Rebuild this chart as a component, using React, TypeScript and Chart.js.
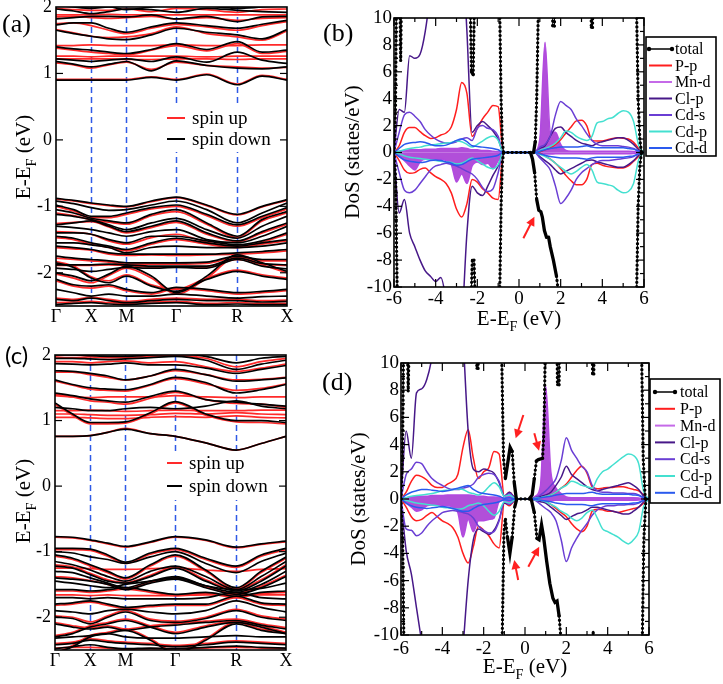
import React, { useEffect, useRef } from "react";
import { Chart, registerables } from "chart.js";

Chart.register(...registerables);

const SERIF = '"Liberation Serif", "Times New Roman", serif';
const SANS = 'Lato, "Open Sans", sans-serif';

// ================= Band structure data =================
const kPath = [0, 0.25, 0.5, 0.75, 1.0, 1.354, 1.707, 2.14, 2.573, 2.927, 3.28];
const kTickPos = [0, 0.5, 1.0, 1.707, 2.573, 3.28];
const kTickLabels = ["Γ", "X", "M", "Γ", "R", "X"];
const bandYTicks = [2, 1, 0, -1, -2];

// panel (a), spin down (black)
const bandsDnA = [
  [0.90, 0.90, 0.90, 0.90, 0.90, 0.94, 0.90, 0.98, 0.83, 0.96, 0.90],
  [1.18, 1.14, 1.10, 1.14, 1.18, 1.04, 1.19, 1.12, 1.08, 1.07, 1.10],
  [1.22, 1.20, 1.18, 1.20, 1.22, 1.18, 1.25, 1.17, 1.32, 1.20, 1.15],
  [1.40, 1.37, 1.35, 1.32, 1.30, 1.36, 1.45, 1.36, 1.48, 1.32, 1.35],
  [1.65, 1.60, 1.56, 1.52, 1.51, 1.58, 1.68, 1.62, 1.58, 1.52, 1.66],
  [1.73, 1.76, 1.76, 1.68, 1.62, 1.70, 1.76, 1.72, 1.68, 1.74, 1.80],
  [1.82, 1.84, 1.86, 1.86, 1.85, 1.88, 1.82, 1.86, 1.78, 1.85, 1.86],
  [1.97, 1.94, 1.90, 1.93, 1.97, 1.96, 1.92, 1.98, 1.95, 1.93, 1.92],
  [2.03, 2.00, 1.98, 2.00, 1.96, 2.00, 2.05, 2.02, 1.98, 2.00, 2.02],
  [-0.88, -0.91, -0.95, -0.98, -1.00, -0.92, -0.86, -0.98, -1.12, -1.00, -0.90],
  [-0.92, -0.96, -1.02, -1.06, -1.05, -0.98, -0.92, -1.05, -1.25, -1.10, -0.95],
  [-0.98, -1.05, -1.15, -1.15, -1.10, -1.02, -0.98, -1.12, -1.28, -1.15, -1.02],
  [-1.05, -1.10, -1.18, -1.22, -1.25, -1.12, -1.05, -1.25, -1.45, -1.20, -1.08],
  [-1.12, -1.15, -1.20, -1.28, -1.35, -1.25, -1.18, -1.35, -1.48, -1.30, -1.15],
  [-1.28, -1.25, -1.22, -1.30, -1.38, -1.30, -1.22, -1.40, -1.52, -1.38, -1.25],
  [-1.30, -1.32, -1.35, -1.40, -1.45, -1.38, -1.35, -1.50, -1.55, -1.45, -1.30],
  [-1.40, -1.40, -1.42, -1.50, -1.55, -1.45, -1.45, -1.52, -1.58, -1.52, -1.40],
  [-1.45, -1.48, -1.55, -1.60, -1.65, -1.55, -1.48, -1.55, -1.60, -1.55, -1.50],
  [-1.55, -1.55, -1.58, -1.62, -1.70, -1.62, -1.60, -1.62, -1.62, -1.60, -1.55],
  [-1.60, -1.62, -1.65, -1.70, -1.72, -1.72, -1.72, -1.72, -1.70, -1.68, -1.65],
  [-1.75, -1.78, -1.80, -1.82, -1.85, -1.85, -1.85, -1.84, -1.75, -1.80, -1.80],
  [-1.88, -1.88, -1.88, -1.87, -1.88, -1.90, -1.90, -1.90, -1.78, -1.86, -1.88],
  [-1.93, -1.95, -1.98, -1.95, -1.92, -1.93, -1.92, -1.93, -1.80, -1.90, -1.94],
  [-1.85, -1.92, -2.08, -2.15, -2.05, -2.20, -2.28, -2.10, -1.98, -2.05, -2.10],
  [-2.10, -2.18, -2.20, -2.18, -2.25, -2.30, -2.22, -2.25, -2.30, -2.28, -2.25],
  [-2.25, -2.30, -2.35, -2.32, -2.35, -2.35, -2.32, -2.35, -2.38, -2.36, -2.35],
  [-2.40, -2.42, -2.38, -2.42, -2.45, -2.42, -2.40, -2.42, -2.42, -2.44, -2.43],
  [-2.48, -2.46, -2.45, -2.47, -2.48, -2.46, -2.45, -2.48, -2.47, -2.48, -2.48],
  [-2.00, -2.05, -2.12, -2.02, -1.90, -2.05, -2.30, -2.05, -1.73, -1.85, -1.98],
];

// panel (a), spin up (red)
const bandsUpA = [
  [0.91, 0.91, 0.91, 0.91, 0.91, 0.95, 0.91, 0.99, 0.84, 0.97, 0.91],
  [1.16, 1.13, 1.08, 1.13, 1.17, 1.06, 1.17, 1.12, 1.10, 1.08, 1.09],
  [1.22, 1.22, 1.22, 1.22, 1.21, 1.21, 1.22, 1.22, 1.21, 1.22, 1.22],
  [1.26, 1.26, 1.25, 1.26, 1.26, 1.26, 1.26, 1.25, 1.26, 1.26, 1.26],
  [1.42, 1.42, 1.43, 1.42, 1.42, 1.42, 1.43, 1.42, 1.42, 1.43, 1.43],
  [1.38, 1.35, 1.32, 1.30, 1.28, 1.35, 1.42, 1.34, 1.45, 1.30, 1.33],
  [1.66, 1.61, 1.56, 1.54, 1.55, 1.60, 1.70, 1.60, 1.55, 1.50, 1.64],
  [1.75, 1.76, 1.72, 1.65, 1.60, 1.68, 1.74, 1.70, 1.65, 1.72, 1.78],
  [1.88, 1.88, 1.88, 1.89, 1.88, 1.88, 1.88, 1.88, 1.88, 1.88, 1.88],
  [1.98, 1.96, 1.95, 1.95, 1.97, 1.93, 1.98, 1.96, 1.92, 1.96, 1.97],
  [1.85, 1.86, 1.84, 1.83, 1.84, 1.86, 1.82, 1.84, 1.80, 1.83, 1.84],
  [-0.89, -0.92, -0.96, -0.99, -1.01, -0.93, -0.87, -0.99, -1.13, -1.01, -0.91],
  [-1.00, -1.07, -1.17, -1.17, -1.12, -1.04, -1.00, -1.14, -1.30, -1.17, -1.04],
  [-1.10, -1.14, -1.20, -1.24, -1.27, -1.14, -1.08, -1.27, -1.47, -1.22, -1.10],
  [-1.26, -1.24, -1.23, -1.31, -1.40, -1.32, -1.24, -1.42, -1.53, -1.40, -1.27],
  [-1.38, -1.39, -1.42, -1.52, -1.57, -1.47, -1.42, -1.54, -1.60, -1.54, -1.42],
  [-1.47, -1.50, -1.57, -1.62, -1.67, -1.57, -1.50, -1.57, -1.62, -1.57, -1.52],
  [-1.62, -1.64, -1.66, -1.72, -1.74, -1.73, -1.74, -1.73, -1.72, -1.70, -1.67],
  [-1.78, -1.80, -1.82, -1.84, -1.87, -1.87, -1.87, -1.86, -1.77, -1.82, -1.82],
  [-1.89, -1.89, -1.89, -1.88, -1.89, -1.91, -1.91, -1.91, -1.80, -1.87, -1.89],
  [-1.83, -1.90, -2.06, -2.12, -2.03, -2.18, -2.25, -2.08, -1.96, -2.03, -2.08],
  [-2.02, -2.08, -2.15, -2.04, -1.93, -2.08, -2.32, -2.08, -1.76, -1.88, -2.00],
  [-2.12, -2.20, -2.23, -2.20, -2.27, -2.32, -2.24, -2.27, -2.32, -2.30, -2.27],
  [-2.38, -2.40, -2.37, -2.40, -2.43, -2.40, -2.38, -2.40, -2.40, -2.42, -2.41],
  [-2.45, -2.44, -2.43, -2.45, -2.46, -2.44, -2.43, -2.46, -2.45, -2.46, -2.46],
];

// panel (c), spin down (black)
const bandsDnC = [
  [0.76, 0.76, 0.77, 0.82, 0.87, 0.80, 0.76, 0.66, 0.55, 0.65, 0.76],
  [1.27, 1.10, 0.97, 0.97, 0.98, 1.12, 1.29, 1.10, 1.00, 1.00, 0.97],
  [1.42, 1.38, 1.33, 1.30, 1.28, 1.37, 1.45, 1.32, 1.28, 1.25, 1.22],
  [1.62, 1.55, 1.50, 1.48, 1.47, 1.55, 1.66, 1.58, 1.42, 1.47, 1.55],
  [1.76, 1.75, 1.72, 1.68, 1.62, 1.68, 1.78, 1.70, 1.60, 1.62, 1.65],
  [1.87, 1.86, 1.85, 1.86, 1.88, 1.85, 1.85, 1.80, 1.72, 1.78, 1.84],
  [1.95, 1.95, 1.94, 1.93, 1.94, 1.96, 1.98, 1.92, 1.78, 1.86, 1.92],
  [2.00, 2.00, 1.99, 1.98, 1.98, 2.00, 2.02, 1.98, 1.88, 1.95, 1.98],
  [1.20, 1.18, 1.15, 1.15, 1.18, 1.20, 1.18, 1.22, 1.30, 1.22, 1.18],
  [-0.77, -0.78, -0.82, -0.87, -0.92, -0.85, -0.77, -0.82, -0.93, -0.88, -0.84],
  [-0.95, -0.95, -0.96, -1.05, -1.16, -1.02, -0.95, -1.10, -1.22, -1.05, -0.95],
  [-1.00, -1.02, -1.08, -1.12, -1.18, -1.08, -1.00, -1.18, -1.32, -1.15, -1.02],
  [-1.05, -1.10, -1.20, -1.30, -1.40, -1.20, -1.05, -1.28, -1.55, -1.30, -1.08],
  [-1.15, -1.20, -1.28, -1.38, -1.45, -1.30, -1.22, -1.38, -1.58, -1.38, -1.15],
  [-1.22, -1.25, -1.35, -1.45, -1.48, -1.38, -1.25, -1.45, -1.60, -1.45, -1.22],
  [-1.30, -1.32, -1.40, -1.48, -1.55, -1.45, -1.38, -1.52, -1.62, -1.50, -1.30],
  [-1.40, -1.42, -1.45, -1.50, -1.58, -1.48, -1.42, -1.55, -1.65, -1.55, -1.38],
  [-1.45, -1.48, -1.52, -1.55, -1.50, -1.45, -1.40, -1.52, -1.58, -1.56, -1.48],
  [-1.58, -1.58, -1.60, -1.58, -1.55, -1.60, -1.65, -1.62, -1.68, -1.62, -1.60],
  [-1.70, -1.70, -1.72, -1.70, -1.72, -1.72, -1.72, -1.70, -1.62, -1.70, -1.72],
  [-1.80, -1.78, -1.75, -1.80, -1.85, -1.82, -1.80, -1.80, -1.68, -1.78, -1.80],
  [-1.90, -1.92, -1.95, -1.90, -1.88, -1.92, -1.95, -1.90, -1.75, -1.85, -1.92],
  [-2.00, -2.02, -2.10, -2.00, -1.92, -2.05, -2.08, -2.02, -1.90, -2.00, -2.05],
  [-2.10, -2.15, -2.18, -2.15, -2.20, -2.15, -2.12, -2.08, -2.05, -2.12, -2.18],
  [-2.30, -2.25, -2.15, -2.10, -2.05, -2.15, -2.25, -2.15, -2.08, -2.15, -2.25],
  [-2.32, -2.30, -2.28, -2.25, -2.30, -2.32, -2.32, -2.30, -2.28, -2.30, -2.30],
  [-2.42, -2.40, -2.35, -2.38, -2.40, -2.42, -2.45, -2.42, -2.38, -2.40, -2.42],
  [-2.48, -2.45, -2.42, -2.46, -2.48, -2.47, -2.48, -2.46, -2.44, -2.46, -2.47],
  [-2.55, -2.45, -2.30, -2.25, -2.20, -2.35, -2.55, -2.35, -2.10, -2.20, -2.25],
];

// panel (c), spin up (red)
const bandsUpC = [
  [0.76, 0.76, 0.77, 0.82, 0.88, 0.80, 0.76, 0.66, 0.55, 0.65, 0.76],
  [1.25, 1.08, 0.95, 0.95, 0.96, 1.10, 1.27, 1.08, 0.98, 0.97, 0.95],
  [1.10, 1.10, 1.09, 1.08, 1.08, 1.09, 1.11, 1.10, 1.12, 1.10, 1.09],
  [1.15, 1.15, 1.16, 1.15, 1.14, 1.15, 1.16, 1.15, 1.15, 1.16, 1.16],
  [1.05, 1.05, 1.04, 1.03, 1.03, 1.05, 1.06, 1.05, 1.07, 1.05, 1.04],
  [1.38, 1.36, 1.35, 1.36, 1.36, 1.36, 1.38, 1.36, 1.35, 1.36, 1.36],
  [1.40, 1.36, 1.30, 1.28, 1.25, 1.34, 1.43, 1.32, 1.26, 1.25, 1.20],
  [1.60, 1.54, 1.48, 1.46, 1.45, 1.54, 1.64, 1.56, 1.46, 1.49, 1.56],
  [1.74, 1.74, 1.70, 1.66, 1.62, 1.68, 1.76, 1.70, 1.62, 1.63, 1.66],
  [1.90, 1.90, 1.88, 1.90, 1.91, 1.88, 1.90, 1.82, 1.75, 1.80, 1.86],
  [1.97, 1.96, 1.97, 1.96, 1.96, 1.98, 1.99, 1.95, 1.82, 1.90, 1.95],
  [-0.78, -0.79, -0.83, -0.88, -0.93, -0.86, -0.78, -0.83, -0.94, -0.89, -0.85],
  [-0.97, -0.97, -0.98, -1.07, -1.18, -1.04, -0.97, -1.12, -1.24, -1.07, -0.97],
  [-1.07, -1.12, -1.22, -1.32, -1.42, -1.22, -1.07, -1.30, -1.57, -1.32, -1.10],
  [-1.20, -1.23, -1.33, -1.43, -1.47, -1.36, -1.23, -1.43, -1.58, -1.43, -1.20],
  [-1.25, -1.25, -1.26, -1.27, -1.27, -1.26, -1.25, -1.28, -1.30, -1.27, -1.26],
  [-1.38, -1.40, -1.44, -1.50, -1.57, -1.47, -1.40, -1.54, -1.64, -1.53, -1.36],
  [-1.60, -1.60, -1.62, -1.60, -1.57, -1.62, -1.67, -1.64, -1.70, -1.64, -1.62],
  [-1.66, -1.66, -1.67, -1.66, -1.67, -1.67, -1.67, -1.66, -1.66, -1.66, -1.66],
  [-1.82, -1.80, -1.77, -1.82, -1.87, -1.84, -1.82, -1.82, -1.70, -1.80, -1.82],
  [-1.98, -2.00, -2.07, -1.98, -1.90, -2.03, -2.06, -2.00, -1.88, -1.98, -2.03],
  [-2.08, -2.13, -2.16, -2.13, -2.18, -2.13, -2.10, -2.06, -2.03, -2.10, -2.16],
  [-2.28, -2.23, -2.13, -2.08, -2.03, -2.13, -2.23, -2.13, -2.06, -2.13, -2.23],
  [-2.40, -2.38, -2.33, -2.36, -2.38, -2.40, -2.43, -2.40, -2.36, -2.38, -2.40],
  [-2.55, -2.43, -2.28, -2.23, -2.18, -2.33, -2.53, -2.33, -2.08, -2.18, -2.23],
  [-2.47, -2.46, -2.46, -2.47, -2.49, -2.48, -2.48, -2.47, -2.46, -2.47, -2.48],
];

// ================= DOS data =================
const dosEnergy = [
  -6, -5.75, -5.5, -5.25, -5, -4.75, -4.5, -4.25, -4, -3.75, -3.5, -3.25,
  -3, -2.75, -2.5, -2.25, -2, -1.75, -1.5, -1.25, -1, -0.75, -0.5, -0.25,
  0, 0.25, 0.5, 0.75, 1, 1.25, 1.5, 1.75, 2, 2.25, 2.5, 2.75,
  3, 3.25, 3.5, 3.75, 4, 4.25, 4.5, 4.75, 5, 5.25, 5.5, 5.75, 6,
];
const dosXTicks = [-6, -4, -2, 0, 2, 4, 6];
const dosXMinor = [-5, -3, -1, 1, 3, 5];
const dosYTicks = [10, 8, 6, 4, 2, 0, -2, -4, -6, -8, -10];
const dosYMinor = [9, 7, 5, 3, 1, -1, -3, -5, -7, -9];

// ---- panel (b) ----
const ppUpB = [0, 0.5, 1.5, 1.85, 1.85, 1.55, 1.25, 1.05, 1.1, 1.3, 1.45, 1.9,
  3.2, 5.2, 4.4, 1.2, 1.8, 2.5, 3.0, 3.5, 3.4, 0, 0, 0,
  0, 0, 0, 0, 0.05, 0.2, 0.35, 0.6, 0.95, 1.45, 1.9, 2.35,
  2.4, 2.0, 0.9, 0.85, 0.85, 0.95, 1.05, 1.1, 1.05, 1.0, 0.75, 0.3, 0];
const ppDnB = [0, -0.6, -1.3, -1.55, -1.5, -1.25, -1.15, -1.5, -1.8, -2.0, -2.3, -3.0,
  -4.2, -4.8, -3.8, -2.0, -2.2, -2.7, -3.0, -3.4, -3.5, 0, 0, 0,
  0, 0, 0, 0, -0.05, -0.25, -0.5, -0.8, -1.2, -1.7, -2.1, -2.4,
  -2.4, -2.0, -0.9, -0.8, -0.95, -1.05, -1.1, -1.15, -1.15, -1.0, -0.65, -0.3, 0];
const mndUpB = [0, 0.1, 0.15, 0.2, 0.2, 0.2, 0.25, 0.25, 0.25, 0.3, 0.3, 0.3,
  0.3, 0.35, 0.3, 0.2, 0.2, 0.15, 0.15, 0.1, 0.05, 0, 0, 0,
  0, 0, 0, 0.1, 1.0, 8.2, 1.6, 1.5, 0.6, 0.15, 0.1, 0.1,
  0.1, 0.1, 0.1, 0.1, 0.1, 0.1, 0.1, 0.1, 0.1, 0.1, 0.08, 0.03, 0];
const mndDnB = [0, -0.3, -0.6, -1.0, -1.3, -0.7, -0.5, -0.5, -0.55, -0.5, -0.6, -0.9,
  -2.2, -1.6, -2.3, -1.0, -0.7, -0.9, -0.8, -1.2, -0.6, 0, 0, 0,
  0, 0, 0, 0, -0.1, -0.12, -0.12, -0.1, -0.1, -0.1, -0.1, -0.1,
  -0.1, -0.1, -0.1, -0.1, -0.1, -0.1, -0.1, -0.1, -0.1, -0.1, -0.08, -0.03, 0];
const clpUpB = [0, 3.2, 3.0, 7.2, 7.0, 7.3, 9.0, 12, 16, 20, 22, 22,
  20, 16, 9, 1.5, 2.0, 2.3, 2.0, 1.6, 1.0, 0, 0, 0,
  0, 0, 0, 0, 0.3, 0.5, 1.2, 1.8, 1.9, 1.5, 1.2, 0.9,
  0.7, 0.6, 0.5, 0.7, 0.8, 0.9, 1.0, 1.1, 1.1, 0.9, 0.6, 0.2, 0];
const clpDnB = [0, -4.5, -3.5, -6.0, -7.0, -8.0, -8.8, -9.2, -9.6, -9.3, -11, -14,
  -16, -13, -6, -2.5, -3.0, -3.2, -2.5, -1.7, -1.0, 0, 0, 0,
  0, 0, 0, 0, -0.3, -0.6, -0.9, -1.3, -1.6, -1.4, -1.2, -1.0,
  -0.8, -0.6, -0.55, -0.7, -0.8, -0.9, -1.0, -1.1, -1.1, -0.9, -0.6, -0.2, 0];
const cdsUpB = [0, 1.5, 2.8, 3.0, 2.7, 2.3, 1.7, 1.3, 1.0, 0.8, 0.7, 0.7,
  0.8, 1.0, 1.1, 0.9, 1.8, 2.0, 1.8, 1.7, 1.2, 0, 0, 0,
  0, 0, 0, 0, 0.4, 0.6, 1.2, 2.8, 3.8, 3.5, 3.2, 2.5,
  2.0, 1.4, 0.9, 0.6, 0.5, 0.5, 0.5, 0.5, 0.45, 0.4, 0.3, 0.1, 0];
const cdsDnB = [0, -1.5, -2.8, -3.0, -2.8, -2.3, -1.8, -1.3, -1.0, -0.9, -0.8, -0.9,
  -1.0, -1.2, -1.4, -1.6, -2.0, -2.6, -2.9, -2.7, -1.5, 0, 0, 0,
  0, 0, 0, 0, -0.4, -0.8, -1.3, -2.5, -3.8, -3.4, -2.8, -2.0,
  -1.5, -1.2, -0.9, -0.7, -0.6, -0.6, -0.55, -0.5, -0.45, -0.4, -0.3, -0.1, 0];
const cdpUpB = [0, 0.1, 0.2, 0.3, 0.35, 0.4, 0.5, 0.55, 0.6, 0.65, 0.7, 0.75,
  0.85, 0.8, 0.6, 0.4, 0.6, 0.85, 1.1, 1.2, 0.9, 0, 0, 0,
  0, 0, 0, 0, 0.15, 0.3, 0.45, 0.7, 1.1, 1.6, 1.5, 1.2,
  1.0, 0.9, 1.2, 2.2, 2.3, 2.5, 2.6, 2.9, 3.1, 3.0, 2.3, 0.5, 0];
const cdpDnB = [0, -0.1, -0.25, -0.35, -0.4, -0.45, -0.5, -0.55, -0.6, -0.65, -0.7, -0.75,
  -0.85, -0.8, -0.6, -0.4, -0.6, -0.85, -1.1, -1.2, -0.9, 0, 0, 0,
  0, 0, 0, 0, -0.15, -0.3, -0.5, -0.8, -1.1, -1.4, -1.6, -1.4,
  -1.1, -0.9, -1.3, -2.2, -2.3, -2.4, -2.5, -2.8, -3.0, -2.9, -2.3, -0.5, 0];
const cddUpB = [0, 0.3, 0.6, 0.7, 0.75, 0.8, 0.75, 0.6, 0.5, 0.5, 0.55, 0.7,
  0.9, 1.0, 0.8, 0.5, 0.45, 0.4, 0.35, 0.3, 0.2, 0, 0, 0,
  0, 0, 0, 0, 0.1, 0.2, 0.3, 0.35, 0.4, 0.4, 0.4, 0.4,
  0.45, 0.5, 0.4, 0.35, 0.35, 0.35, 0.35, 0.35, 0.35, 0.3, 0.25, 0.1, 0];
const cddDnB = [0, -0.3, -0.55, -0.65, -0.7, -0.75, -0.7, -0.6, -0.55, -0.6, -0.7, -0.8,
  -0.95, -0.9, -0.7, -0.5, -0.45, -0.4, -0.35, -0.3, -0.2, 0, 0, 0,
  0, 0, 0, 0, -0.1, -0.2, -0.3, -0.35, -0.4, -0.4, -0.4, -0.4,
  -0.45, -0.5, -0.4, -0.35, -0.35, -0.35, -0.35, -0.35, -0.35, -0.3, -0.25, -0.1, 0];
const totUpEnergyB = [-6, -5.93, -5.88, -5.8, -5.72, -5.68, -5.64, -5.55, -2.45, -2.35, -2.28, -2.2, -2.13, -2.0,
  -1.0, -0.92, -0.86, -0.8, -0.74, 0.7, 0.78, 0.85, 0.92, 1.0, 1.55, 1.62, 1.7, 1.78,
  3.4, 3.47, 3.53, 3.6, 5.55, 5.65, 5.72, 5.8, 5.88, 6];
const totUpB = [0, 3, 12, 20, 12, 6.8, 12, 25, 25, 12, 6.0, 5.8, 12, 25,
  25, 10, 4, 0.8, 0, 0, 0.8, 4, 10, 25, 20, 9.4, 9.4, 20,
  20, 9.3, 9.3, 20, 25, 10, 4, 1, 0, 0];
const totDnEnergyB = [-6, -5.92, -5.85, -5.78, -2.4, -2.3, -2.24, -2.16, -2.1, -2.0,
  -1.0, -0.92, -0.86, -0.8, -0.74, 0.55, 0.65, 0.75, 0.85, 0.95, 1.05, 1.12, 1.22, 1.32, 1.42,
  1.5, 1.65, 1.8, 1.9, 2.0, 5.55, 5.65, 5.72, 5.8, 5.88, 6];
const totDnB = [0, -2, -10, -25, -25, -11, -8.0, -8.0, -11, -25,
  -25, -10, -4, -0.8, 0, 0, -0.5, -1.5, -3.5, -4.3, -4.4, -4.8, -5.8, -6.3, -6.3,
  -7.0, -8.0, -9.2, -10.5, -14, -25, -10, -4, -1, 0, 0];
const arrowsB = [{ from: [0.21, -6.38], to: [0.74, -4.77] }];

// ---- panel (d) ----
const ppUpD = [0, 0.5, 1.3, 1.75, 1.65, 1.4, 1.0, 0.85, 0.85, 1.1, 1.3, 1.8,
  3.8, 5.1, 3.0, 1.5, 2.0, 2.3, 3.5, 3.3, 0.2, 0.5, 0.1, 0,
  0, 0, 0.05, 0.1, 0.2, 0.3, 0.5, 0.8, 1.1, 1.6, 2.1, 2.4,
  1.9, 0.9, 0.75, 0.8, 0.85, 0.85, 0.9, 0.9, 0.8, 0.7, 0.6, 0.3, 0];
const ppDnD = [0, -0.6, -1.3, -1.6, -1.5, -1.2, -1.0, -1.3, -1.6, -1.8, -2.1, -2.8,
  -4.0, -4.7, -3.5, -2.0, -2.3, -2.7, -3.3, -3.6, -0.3, -0.5, -0.1, 0,
  0, 0, -0.05, -0.1, -0.2, -0.4, -0.7, -1.0, -1.3, -1.8, -2.2, -2.4,
  -2.0, -0.9, -0.75, -0.8, -0.9, -0.9, -1.0, -0.9, -0.8, -0.7, -0.6, -0.3, 0];
const mndUpD = [0, 0.1, 0.15, 0.2, 0.2, 0.2, 0.25, 0.25, 0.25, 0.3, 0.3, 0.3,
  0.3, 0.3, 0.25, 0.2, 0.2, 0.15, 0.15, 0.1, 0.05, 0.3, 0.05, 0,
  0, 0, 0.2, 1.0, 8.3, 2.0, 0.8, 0.4, 0.15, 0.1, 0.1, 0.1,
  0.1, 0.1, 0.1, 0.1, 0.1, 0.1, 0.1, 0.1, 0.1, 0.1, 0.08, 0.03, 0];
const mndDnD = [0, -0.3, -0.6, -0.9, -0.8, -0.5, -0.45, -0.45, -0.5, -0.5, -0.6, -1.0,
  -2.8, -1.5, -2.4, -1.6, -1.6, -1.5, -1.4, -0.2, -0.1, -0.3, -0.05, 0,
  0, 0, -0.05, -0.15, -0.2, -0.15, -0.1, -0.1, -0.1, -0.1, -0.1, -0.1,
  -0.1, -0.1, -0.1, -0.1, -0.1, -0.1, -0.1, -0.1, -0.1, -0.1, -0.08, -0.03, 0];
const clpUpD = [0, 5.0, 3.0, 7.8, 8.1, 8.8, 10.5, 14, 18, 20, 20, 18,
  12, 5, 2.2, 2.0, 2.2, 2.1, 1.9, 1.2, 0.2, 0.5, 0.1, 0,
  0, 0, 0.1, 0.2, 0.3, 0.5, 1.0, 1.6, 2.4, 1.8, 1.5, 1.2,
  0.9, 0.7, 0.6, 0.7, 0.8, 0.9, 1.0, 1.1, 1.2, 1.0, 0.7, 0.2, 0];
const clpDnD = [0, -3.8, -5.5, -8.0, -10.5, -13, -16, -18, -20, -20, -20, -16,
  -11, -6, -3.0, -2.2, -2.4, -2.6, -2.3, -1.5, -0.3, -0.4, -0.1, 0,
  0, 0, -0.1, -0.2, -0.3, -0.6, -0.9, -1.2, -1.5, -1.3, -1.1, -1.0,
  -0.8, -0.6, -0.6, -0.7, -0.8, -0.9, -1.0, -1.1, -1.1, -0.9, -0.6, -0.2, 0];
const cdsUpD = [0, 1.8, 2.2, 2.7, 2.6, 2.0, 1.5, 1.2, 1.0, 0.8, 0.7, 0.7,
  0.8, 0.9, 1.1, 1.6, 1.8, 1.9, 1.8, 1.3, 0.2, 0.4, 0.1, 0,
  0, 0, 0.1, 0.3, 0.6, 1.0, 1.5, 2.8, 4.5, 3.6, 3.0, 2.4,
  2.0, 1.0, 0.6, 0.5, 0.5, 0.45, 0.45, 0.45, 0.4, 0.4, 0.3, 0.1, 0];
const cdsDnD = [0, -2.2, -2.3, -2.7, -2.5, -2.0, -1.6, -1.3, -1.0, -0.9, -0.85, -0.9,
  -1.0, -1.1, -1.4, -2.0, -2.3, -2.5, -2.4, -1.6, -0.2, -0.4, -0.1, 0,
  0, 0, -0.1, -0.4, -0.7, -1.0, -1.6, -3.0, -4.6, -3.6, -2.9, -2.3,
  -1.8, -1.2, -0.8, -0.6, -0.5, -0.5, -0.45, -0.45, -0.4, -0.4, -0.3, -0.1, 0];
const cdpUpD = [0, 0.1, 0.2, 0.25, 0.3, 0.35, 0.4, 0.5, 0.6, 0.65, 0.7, 0.75,
  0.7, 0.5, 0.4, 0.3, 0.5, 0.9, 1.2, 0.9, 0.2, 0.3, 0.05, 0,
  0, 0, 0.05, 0.1, 0.2, 0.3, 0.5, 0.8, 1.0, 1.3, 1.2, 1.0,
  0.9, 0.8, 1.5, 2.0, 2.2, 2.5, 2.8, 3.1, 3.3, 3.2, 2.6, 0.5, 0];
const cdpDnD = [0, -0.1, -0.2, -0.3, -0.35, -0.4, -0.45, -0.5, -0.6, -0.65, -0.7, -0.75,
  -0.7, -0.5, -0.4, -0.3, -0.5, -0.9, -1.2, -0.9, -0.2, -0.3, -0.05, 0,
  0, 0, -0.05, -0.1, -0.2, -0.4, -0.6, -0.9, -1.1, -1.4, -1.6, -1.4,
  -1.0, -0.8, -1.4, -2.2, -2.4, -2.6, -2.8, -3.1, -3.3, -3.0, -2.4, -0.5, 0];
const cddUpD = [0, 0.3, 0.5, 0.6, 0.7, 0.7, 0.65, 0.6, 0.55, 0.6, 0.7, 0.8,
  0.9, 1.0, 0.7, 0.5, 0.4, 0.35, 0.3, 0.2, 0.05, 0.1, 0, 0,
  0, 0, 0.02, 0.1, 0.15, 0.2, 0.3, 0.35, 0.4, 0.4, 0.4, 0.4,
  0.45, 0.5, 0.4, 0.35, 0.35, 0.35, 0.35, 0.35, 0.35, 0.3, 0.25, 0.1, 0];
const cddDnD = [0, -0.3, -0.5, -0.6, -0.65, -0.7, -0.65, -0.6, -0.55, -0.6, -0.7, -0.8,
  -0.9, -0.9, -0.7, -0.5, -0.4, -0.35, -0.3, -0.2, -0.05, -0.1, 0, 0,
  0, 0, -0.02, -0.1, -0.15, -0.2, -0.3, -0.35, -0.4, -0.4, -0.4, -0.4,
  -0.45, -0.5, -0.4, -0.35, -0.35, -0.35, -0.35, -0.35, -0.35, -0.3, -0.25, -0.1, 0];
const totUpEnergyD = [-6, -5.93, -5.87, -5.78, -5.7, -5.65, -5.6, -5.5, -2.4, -2.33, -2.27, -2.2,
  -1.2, -1.12, -1.04, -0.95, -0.85, -0.72, -0.62, -0.52, -0.42,
  0.2, 0.35, 0.45, 0.55, 0.65, 0.85, 0.92, 0.97, 1.05,
  1.5, 1.57, 1.65, 1.72, 3.2, 3.27, 3.33, 3.4, 5.55, 5.65, 5.72, 5.82, 6];
const totUpD = [0, 3, 12, 25, 12, 7.9, 12, 25, 25, 9.6, 9.6, 25,
  25, 10, 3, 1.5, 2.5, 3.8, 3.5, 1.2, 0,
  0, 0.3, 1.5, 2.8, 2.9, 3.0, 5, 10, 25,
  20, 8.4, 8.4, 20, 20, 9.2, 9.2, 20, 25, 10, 3, 0, 0];
const totDnEnergyD = [-6, -5.92, -5.85, -5.75,
  -1.2, -1.1, -1.02, -0.95, -0.85, -0.73, -0.62, -0.5, -0.4,
  0.3, 0.45, 0.58, 0.68, 0.8, 0.9, 1.05, 1.2, 1.35, 1.45, 1.55, 1.65, 1.75, 1.85,
  3.25, 3.3, 3.35, 5.6, 5.68, 5.75, 5.85, 6];
const totDnD = [0, -3, -12, -25,
  -25, -10, -2.5, -1.4, -2.8, -4.0, -2.8, -0.6, 0,
  0, -1.0, -2.9, -3.0, -1.9, -2.8, -4.6, -6.2, -7.3, -7.6, -7.5, -8.6, -10.5, -15,
  -20, -9.7, -20, -25, -10, -3, 0, 0];
const arrowsD = [
  { from: [-0.08, 6.18], to: [-0.45, 4.46] },
  { from: [0.45, 4.83], to: [0.68, 3.55] },
  { from: [-0.33, -5.96], to: [-0.52, -4.49] },
  { from: [0.16, -4.98], to: [0.69, -3.51] },
];

// ================= colours =================
const C = {
  total: "#000000",
  pp: "#ff1e1e",
  mnd: "#b24ae0",
  mndFill: "rgba(170, 64, 214, 0.92)",
  mndLegend: "#c56ae8",
  clp: "#471888",
  cds: "#6a3ed4",
  cdp: "#44e0d0",
  cdd: "#2a5aee",
  red: "#ff2a2a",
  black: "#000000",
  vline: "#2f5ae6",
};

// ================= drawing helpers =================
type Part = [string, boolean];
const eTitle: Part[] = [["E-E", false], ["F", true], [" (eV)", false]];
const dosTitle: Part[] = [["DoS (states/eV)", false]];

function drawParts(ctx: any, parts: Part[], x: number, y: number, size: number) {
  const widths: number[] = [];
  let total = 0;
  parts.forEach(([t, sub]) => {
    ctx.font = `${sub ? size * 0.68 : size}px ${SERIF}`;
    const w = ctx.measureText(t).width;
    widths.push(w);
    total += w;
  });
  let cx = x - total / 2;
  parts.forEach(([t, sub], i) => {
    ctx.font = `${sub ? size * 0.68 : size}px ${SERIF}`;
    ctx.fillText(t, cx, sub ? y + size * 0.28 : y);
    cx += widths[i];
  });
}

interface LegendCfg {
  box: { x: number; y: number; w: number; h: number; border: boolean };
  items: { color: string; text: string; dots?: boolean }[];
  x0: number;
  x1: number;
  tx: number;
  y0: number;
  dy: number;
  size: number;
}

interface Deco {
  xLabels: { v: number; t: string }[];
  yLabels: { v: number; t: string }[];
  xMajor: number[];
  xMinor: number[];
  yMajor: number[];
  yMinor: number[];
  majorLen: number;
  minorLen: number;
  vlines: number[];
  labelSize: number;
  xLabelDy: number;
  yLabelGap: number;
  yTitle: { x: number; y: number; parts: Part[]; size: number };
  xTitle: { x: number; y: number; parts: Part[]; size: number } | null;
  panel: { x: number; y: number; text: string; font: string };
  legend: LegendCfg;
  arrows: { from: number[]; to: number[] }[];
}

function decoPlugin(d: Deco) {
  return {
    id: "deco",
    beforeDatasetsDraw(chart: any) {
      const { ctx, chartArea: a, scales } = chart;
      if (!d.vlines.length) return;
      ctx.save();
      ctx.strokeStyle = C.vline;
      ctx.lineWidth = 1.5;
      ctx.setLineDash([6, 4]);
      d.vlines.forEach((v) => {
        const x = Math.round(scales.x.getPixelForValue(v)) + 0.5;
        ctx.beginPath();
        ctx.moveTo(x, a.top);
        ctx.lineTo(x, a.bottom);
        ctx.stroke();
      });
      ctx.restore();
    },
    afterDraw(chart: any) {
      const { ctx, chartArea: a, scales } = chart;
      const xs = scales.x;
      const ys = scales.y;
      ctx.save();
      ctx.setLineDash([]);

      // arrows
      d.arrows.forEach((ar) => {
        const x0 = xs.getPixelForValue(ar.from[0]);
        const y0 = ys.getPixelForValue(ar.from[1]);
        const x1 = xs.getPixelForValue(ar.to[0]);
        const y1 = ys.getPixelForValue(ar.to[1]);
        const ang = Math.atan2(y1 - y0, x1 - x0);
        const hl = 9;
        const hw = 4.5;
        const c = Math.cos(ang);
        const s = Math.sin(ang);
        ctx.strokeStyle = "#ff2020";
        ctx.fillStyle = "#ff2020";
        ctx.lineWidth = 2;
        ctx.beginPath();
        ctx.moveTo(x0, y0);
        ctx.lineTo(x1 - hl * 0.8 * c, y1 - hl * 0.8 * s);
        ctx.stroke();
        ctx.beginPath();
        ctx.moveTo(x1, y1);
        ctx.lineTo(x1 - hl * c + hw * s, y1 - hl * s - hw * c);
        ctx.lineTo(x1 - hl * c - hw * s, y1 - hl * s + hw * c);
        ctx.closePath();
        ctx.fill();
      });

      // legend
      const L = d.legend;
      ctx.fillStyle = "#ffffff";
      ctx.fillRect(L.box.x, L.box.y, L.box.w, L.box.h);
      if (L.box.border) {
        ctx.strokeStyle = "#000";
        ctx.lineWidth = 1.6;
        ctx.strokeRect(L.box.x, L.box.y, L.box.w, L.box.h);
      }
      ctx.font = `${L.size}px ${SERIF}`;
      ctx.textAlign = "left";
      ctx.textBaseline = "middle";
      L.items.forEach((it, i) => {
        const y = L.y0 + i * L.dy;
        ctx.strokeStyle = it.color;
        ctx.lineWidth = it.dots ? 1.5 : 2;
        ctx.beginPath();
        ctx.moveTo(L.x0, y);
        ctx.lineTo(L.x1, y);
        ctx.stroke();
        if (it.dots) {
          ctx.fillStyle = it.color;
          [L.x0, L.x1].forEach((x) => {
            ctx.beginPath();
            ctx.arc(x, y, 2.2, 0, Math.PI * 2);
            ctx.fill();
          });
        }
        ctx.fillStyle = "#000";
        ctx.fillText(it.text, L.tx, y + 1);
      });

      // frame
      ctx.strokeStyle = "#000";
      ctx.lineWidth = 1.6;
      ctx.strokeRect(a.left, a.top, a.right - a.left, a.bottom - a.top);

      // ticks (inward)
      ctx.lineWidth = 1.2;
      const seg = (x1: number, y1: number, x2: number, y2: number) => {
        ctx.beginPath();
        ctx.moveTo(x1, y1);
        ctx.lineTo(x2, y2);
        ctx.stroke();
      };
      const yt = (vals: number[], len: number) =>
        vals.forEach((v) => {
          const y = ys.getPixelForValue(v);
          seg(a.left, y, a.left + len, y);
          seg(a.right, y, a.right - len, y);
        });
      const xt = (vals: number[], len: number) =>
        vals.forEach((v) => {
          const x = xs.getPixelForValue(v);
          seg(x, a.bottom, x, a.bottom - len);
          seg(x, a.top, x, a.top + len);
        });
      yt(d.yMajor, d.majorLen);
      yt(d.yMinor, d.minorLen);
      xt(d.xMajor, d.majorLen);
      xt(d.xMinor, d.minorLen);

      // tick labels
      ctx.fillStyle = "#000";
      ctx.font = `${d.labelSize}px ${SERIF}`;
      ctx.textAlign = "right";
      ctx.textBaseline = "middle";
      d.yLabels.forEach((l) => ctx.fillText(l.t, a.left - d.yLabelGap, ys.getPixelForValue(l.v)));
      ctx.textAlign = "center";
      d.xLabels.forEach((l) => ctx.fillText(l.t, xs.getPixelForValue(l.v), a.bottom + d.xLabelDy));

      // titles
      ctx.textAlign = "left";
      ctx.textBaseline = "alphabetic";
      ctx.save();
      ctx.translate(d.yTitle.x, d.yTitle.y);
      ctx.rotate(-Math.PI / 2);
      drawParts(ctx, d.yTitle.parts, 0, 0, d.yTitle.size);
      ctx.restore();
      if (d.xTitle) drawParts(ctx, d.xTitle.parts, d.xTitle.x, d.xTitle.y, d.xTitle.size);

      // panel label
      ctx.font = d.panel.font;
      ctx.textBaseline = "middle";
      ctx.textAlign = "left";
      ctx.fillText(d.panel.text, d.panel.x, d.panel.y);
      ctx.restore();
    },
  };
}

// ================= chart configs =================
function bandDataset(vals: number[], color: string, order: number) {
  return {
    data: kPath.map((k, i) => ({ x: k, y: vals[i] })),
    borderColor: color,
    borderWidth: 1.7,
    pointRadius: 0,
    fill: false,
    cubicInterpolationMode: "monotone",
    order,
  };
}

function bandConfig(black: number[][], red: number[][], deco: Deco, padding: any) {
  const datasets: any[] = [];
  black.forEach((b) => datasets.push(bandDataset(b, C.black, 1)));
  red.forEach((b) => datasets.push(bandDataset(b, C.red, 2)));
  return {
    type: "line",
    data: { datasets },
    options: {
      animation: false,
      responsive: true,
      maintainAspectRatio: false,
      devicePixelRatio: 1,
      events: [],
      layout: { padding },
      scales: {
        x: { type: "linear", display: false, min: kPath[0], max: kPath[kPath.length - 1] },
        y: { type: "linear", display: false, min: -2.5, max: 2 },
      },
      plugins: { legend: { display: false }, tooltip: { enabled: false } },
    },
    plugins: [decoPlugin(deco)],
  };
}

function dosDataset(vals: number[], color: string, order: number, fillColor?: string) {
  return {
    data: dosEnergy.map((e, i) => ({ x: e, y: vals[i] })),
    borderColor: color,
    borderWidth: 1.5,
    pointRadius: 0,
    fill: fillColor ? "origin" : false,
    backgroundColor: fillColor || "transparent",
    cubicInterpolationMode: "monotone",
    order,
  };
}

function steep(ctx: any) {
  const dx = Math.abs(ctx.p1.x - ctx.p0.x);
  const dy = Math.abs(ctx.p1.y - ctx.p0.y);
  return dy > 8 * dx;
}

function flat(ctx: any) {
  return Math.abs(ctx.p1.y - ctx.p0.y) < 0.5;
}

function totalDatasets(energy: number[], vals: number[]) {
  const data = energy.map((e, i) => ({ x: e, y: vals[i] }));
  return [
    { data, borderColor: C.total, borderWidth: 1, pointRadius: 0, fill: false, order: 0 },
    {
      data,
      borderColor: C.total,
      borderWidth: 3.3,
      borderCapStyle: "round",
      pointRadius: 0,
      fill: false,
      order: 0,
      segment: {
        borderDash: (ctx: any) => (steep(ctx) || flat(ctx) ? [0, 4.3] : undefined),
        borderWidth: (ctx: any) => (flat(ctx) ? 2.8 : undefined),
      },
    },
  ];
}

interface DosSet {
  pp: number[][]; mnd: number[][]; clp: number[][]; cds: number[][]; cdp: number[][]; cdd: number[][];
  tot: number[][];
}

function dosConfig(s: DosSet, deco: Deco, padding: any) {
  const datasets: any[] = [
    ...totalDatasets(s.tot[0], s.tot[1]),
    ...totalDatasets(s.tot[2], s.tot[3]),
    dosDataset(s.cdd[0], C.cdd, 2), dosDataset(s.cdd[1], C.cdd, 2),
    dosDataset(s.cdp[0], C.cdp, 3), dosDataset(s.cdp[1], C.cdp, 3),
    dosDataset(s.cds[0], C.cds, 4), dosDataset(s.cds[1], C.cds, 4),
    dosDataset(s.clp[0], C.clp, 5), dosDataset(s.clp[1], C.clp, 5),
    dosDataset(s.pp[0], C.pp, 6), dosDataset(s.pp[1], C.pp, 6),
    dosDataset(s.mnd[0], C.mnd, 20, C.mndFill), dosDataset(s.mnd[1], C.mnd, 20, C.mndFill),
  ];
  return {
    type: "line",
    data: { datasets },
    options: {
      animation: false,
      responsive: true,
      maintainAspectRatio: false,
      devicePixelRatio: 1,
      events: [],
      layout: { padding },
      scales: {
        x: { type: "linear", display: false, min: -6, max: 6 },
        y: { type: "linear", display: false, min: -10, max: 10 },
      },
      plugins: { legend: { display: false }, tooltip: { enabled: false } },
    },
    plugins: [decoPlugin(deco)],
  };
}

const bandXLabels = kTickPos.map((v, i) => ({ v, t: kTickLabels[i] }));
const bandYLabels = bandYTicks.map((v) => ({ v, t: String(v) }));
const dosXLabels = dosXTicks.map((v) => ({ v, t: String(v) }));
const dosYLabels = dosYTicks.map((v) => ({ v, t: String(v) }));
const spinLegendItems = [
  { color: C.red, text: "spin up" },
  { color: C.black, text: "spin down" },
];
const dosLegendItems = [
  { color: C.total, text: "total", dots: true },
  { color: C.pp, text: "P-p" },
  { color: C.mndLegend, text: "Mn-d" },
  { color: C.clp, text: "Cl-p" },
  { color: C.cds, text: "Cd-s" },
  { color: C.cdp, text: "Cd-p" },
  { color: C.cdd, text: "Cd-d" },
];

function bandDeco(over: Partial<Deco>): Deco {
  return {
    xLabels: bandXLabels,
    yLabels: bandYLabels,
    xMajor: [],
    xMinor: [],
    yMajor: [1, 0, -1, -2],
    yMinor: [],
    majorLen: 7,
    minorLen: 4,
    vlines: kTickPos.slice(1, 5),
    labelSize: 18,
    xLabelDy: 11,
    yLabelGap: 4,
    yTitle: { x: 30, y: 157, parts: eTitle, size: 21 },
    xTitle: null,
    panel: { x: 2, y: 25, text: "(a)", font: `26px ${SERIF}` },
    legend: {
      box: { x: 158, y: 106, w: 120, h: 46, border: false },
      items: spinLegendItems,
      x0: 167, x1: 185, tx: 192, y0: 118, dy: 21, size: 19,
    },
    arrows: [],
    ...over,
  } as Deco;
}

function dosDeco(over: Partial<Deco>): Deco {
  return {
    xLabels: dosXLabels,
    yLabels: dosYLabels,
    xMajor: dosXTicks,
    xMinor: dosXMinor,
    yMajor: dosYTicks,
    yMinor: dosYMinor,
    majorLen: 8,
    minorLen: 4,
    vlines: [],
    labelSize: 19,
    xLabelDy: 12,
    yLabelGap: 2,
    yTitle: { x: 44, y: 152, parts: dosTitle, size: 21 },
    xTitle: { x: 204, y: 325, parts: eTitle, size: 21 },
    panel: { x: 8, y: 34, text: "(b)", font: `26px ${SERIF}` },
    legend: {
      box: { x: 331, y: 37, w: 70, h: 119, border: true },
      items: dosLegendItems,
      x0: 334, x1: 357, tx: 360, y0: 49, dy: 16.5, size: 16,
    },
    arrows: [],
    ...over,
  } as Deco;
}

const makeA = () =>
  bandConfig(bandsDnA, bandsUpA, bandDeco({}), { left: 56, right: 28, top: 7, bottom: 29 });

const makeC = () =>
  bandConfig(
    bandsDnC,
    bandsUpC,
    bandDeco({
      yTitle: { x: 30, y: 166, parts: eTitle, size: 21 },
      panel: { x: 5, y: 21, text: "(c)", font: `24px ${SANS}` },
      legend: {
        box: { x: 160, y: 117, w: 121, h: 48, border: false },
        items: spinLegendItems,
        x0: 167, x1: 182, tx: 189, y0: 128, dy: 23, size: 19,
      },
    }),
    { left: 55, right: 29, top: 20, bottom: 34 }
  );

const makeB = () =>
  dosConfig(
    {
      pp: [ppUpB, ppDnB], mnd: [mndUpB, mndDnB], clp: [clpUpB, clpDnB], cds: [cdsUpB, cdsDnB],
      cdp: [cdpUpB, cdpDnB], cdd: [cddUpB, cddDnB],
      tot: [totUpEnergyB, totUpB, totDnEnergyB, totDnB],
    },
    dosDeco({ arrows: arrowsB }),
    { left: 79, right: 79, top: 18, bottom: 48 }
  );

const makeD = () =>
  dosConfig(
    {
      pp: [ppUpD, ppDnD], mnd: [mndUpD, mndDnD], clp: [clpUpD, clpDnD], cds: [cdsUpD, cdsDnD],
      cdp: [cdpUpD, cdpDnD], cdd: [cddUpD, cddDnD],
      tot: [totUpEnergyD, totUpD, totDnEnergyD, totDnD],
    },
    dosDeco({
      arrows: arrowsD,
      xLabelDy: 14,
      yTitle: { x: 50, y: 164, parts: dosTitle, size: 21 },
      xTitle: { x: 210, y: 338, parts: eTitle, size: 21 },
      panel: { x: 7, y: 48, text: "(d)", font: `26px ${SERIF}` },
      legend: {
        box: { x: 335, y: 44, w: 70, h: 124, border: true },
        items: dosLegendItems,
        x0: 340, x1: 360, tx: 365, y0: 57, dy: 16.8, size: 16,
      },
    }),
    { left: 86, right: 74, top: 28, bottom: 49 }
  );

function ChartBox(props: { left: number; top: number; width: number; height: number; make: () => any }) {
  const ref = useRef<HTMLCanvasElement | null>(null);
  useEffect(() => {
    if (!ref.current) return;
    const chart = new Chart(ref.current, props.make());
    return () => chart.destroy();
  }, []);
  return (
    <div style={{ position: "absolute", left: props.left, top: props.top, width: props.width, height: props.height }}>
      <canvas ref={ref} />
    </div>
  );
}

export default function App() {
  return (
    <div
      style={{
        position: "absolute",
        left: 0,
        top: 0,
        width: 723,
        height: 684,
        background: "#ffffff",
        overflow: "hidden",
      }}
    >
      <ChartBox left={0} top={0} width={315} height={335} make={makeA} />
      <ChartBox left={315} top={0} width={408} height={335} make={makeB} />
      <ChartBox left={0} top={335} width={315} height={349} make={makeC} />
      <ChartBox left={315} top={335} width={408} height={349} make={makeD} />
    </div>
  );
}
